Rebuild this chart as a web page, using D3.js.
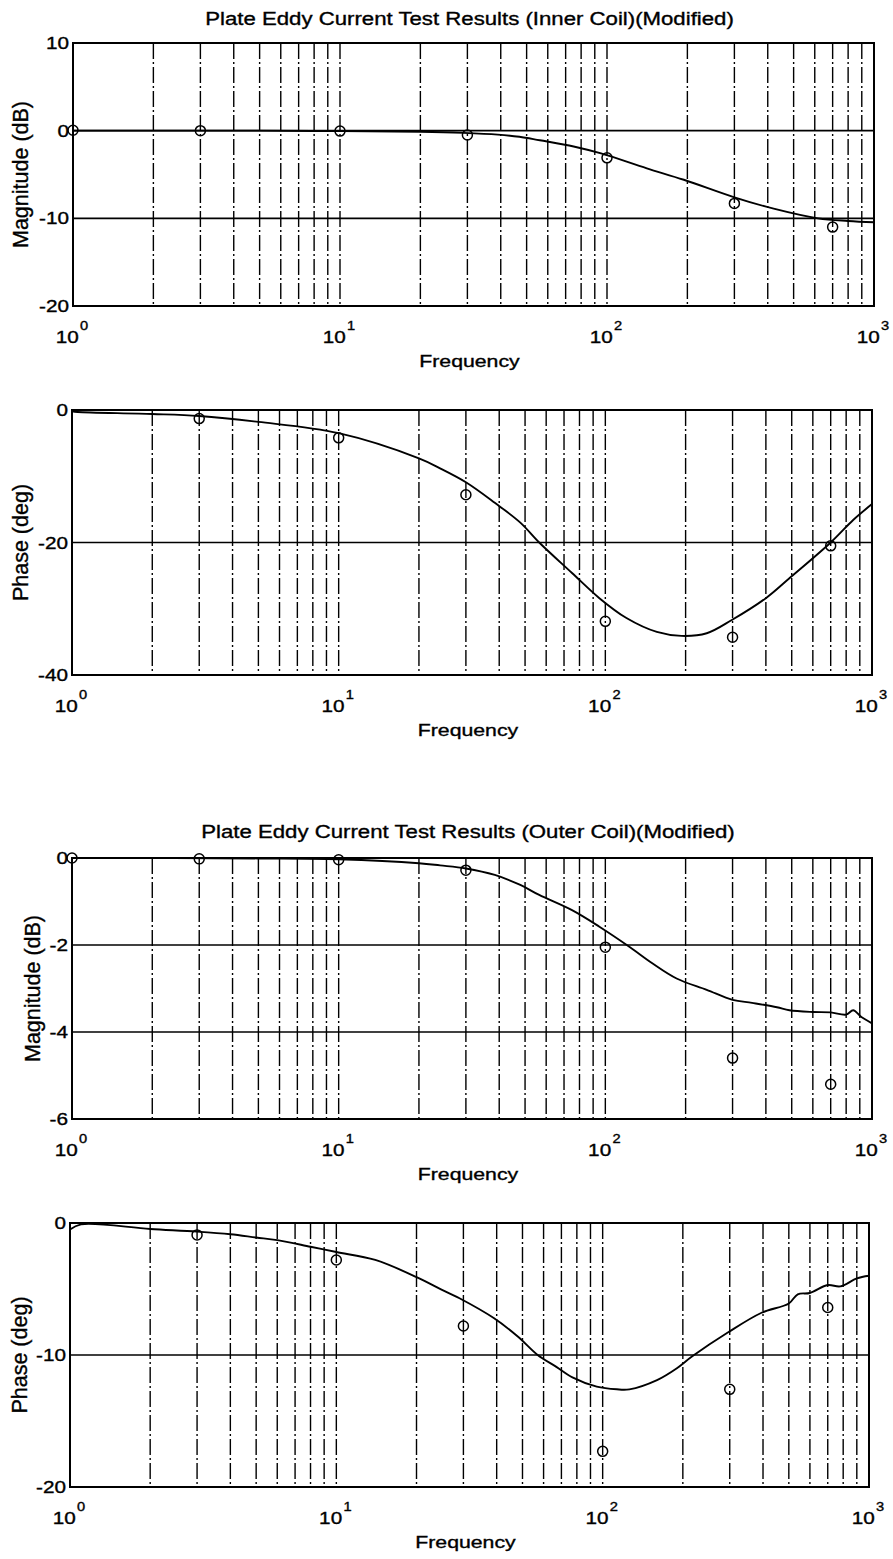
<!DOCTYPE html>
<html>
<head>
<meta charset="utf-8">
<script src="https://cdn.jsdelivr.net/npm/d3@7"></script>
<style>
  body { margin: 0; background: #fff; }
  svg text { font-family: "Liberation Sans", Arial, sans-serif; fill: #000; stroke: #000; stroke-width: 0.35px; }
</style>
</head>
<body>
<div id="chart"></div>
<script>
// values
const decades = [1, 10, 100, 1000];
const decadeExp = ["0", "1", "2", "3"];

// inner coil - magnitude (dB)
const innerMagFreq = [1, 2, 5, 10, 20, 29, 39, 47, 56, 75, 95, 141, 194, 300, 421, 617, 800, 1000];
const innerMagCurve = [0, 0, 0, -0.05, -0.12, -0.25, -0.45, -0.7, -1.1, -1.8, -2.6, -4.3, -5.6, -7.6, -8.9, -10.0, -10.3, -10.45];
const innerMagTestF = [1, 3, 10, 30, 100, 300, 700];
const innerMagTest = [0.05, 0, -0.05, -0.5, -3.1, -8.3, -11.0];
const innerMagTicks = [10, 0, -10, -20];

// inner coil - phase (deg)
const innerPhFreq = [1, 1.05, 2, 3, 5, 10, 20, 24, 30, 38.5, 48, 56.5, 75, 95, 120, 156, 193, 240, 298, 400, 490, 700, 850, 1000];
const innerPhCurve = [-0.2, -0.3, -0.6, -0.9, -1.8, -3.5, -7.3, -8.8, -10.9, -14, -17, -20, -24.6, -28.4, -31.4, -33.5, -34.1, -33.7, -31.7, -28.4, -25.4, -20, -16.6, -14.2];
const innerPhTestF = [3, 10, 30, 100, 300, 700];
const innerPhTest = [-1.3, -4.2, -12.8, -31.9, -34.3, -20.5];
const innerPhTicks = [0, -20, -40];

// outer coil - magnitude (dB)
const outerMagFreq = [1, 5, 10, 20, 24, 30, 38.5, 48, 56.5, 75, 95, 123, 150, 185, 240, 300, 355, 440, 490, 600, 700, 800, 850, 910, 1000];
const outerMagCurve = [0, -0.01, -0.03, -0.12, -0.17, -0.24, -0.39, -0.62, -0.85, -1.2, -1.58, -2.04, -2.42, -2.77, -3.03, -3.26, -3.33, -3.43, -3.5, -3.54, -3.55, -3.6, -3.5, -3.65, -3.8];
const outerMagTestF = [1, 3, 10, 30, 100, 300, 700];
const outerMagTest = [0, -0.02, -0.04, -0.28, -2.05, -4.6, -5.2];
const outerMagTicks = [0, -2, -4, -6];

// outer coil - phase (deg)
const outerPhFreq = [1, 1.1, 2, 3, 4, 5, 6, 8, 10, 14, 20, 24, 29, 39, 48, 57, 67, 77, 95, 113, 126, 160, 190, 217, 295, 395, 500, 540, 600, 700, 780, 900, 1000];
const outerPhCurve = [-0.5, -0.1, -0.45, -0.65, -0.85, -1.1, -1.3, -1.8, -2.2, -2.8, -4.1, -4.9, -5.7, -7.2, -8.6, -10, -10.9, -11.7, -12.4, -12.6, -12.6, -11.9, -11, -10.1, -8.3, -6.8, -6.1, -5.4, -5.3, -4.7, -4.8, -4.2, -4.0];
const outerPhTestF = [3, 10, 30, 100, 300, 700];
const outerPhTest = [-0.9, -2.8, -7.8, -17.3, -12.6, -6.4];
const outerPhTicks = [0, -10, -20];

const width = 893, height = 1559;
const sx = 1.22; // the scan is stretched sideways

const panels = [
  { title: "Plate Eddy Current Test Results (Inner Coil)(Modified)", titleY: 25,
    box: { left: 73, right: 874, top: 43, bottom: 306 }, yDomain: [-20, 10],
    yTicks: innerMagTicks, yLabel: "Magnitude (dB)", yLabelX: 28,
    cf: innerMagFreq, cv: innerMagCurve, tf: innerMagTestF, tv: innerMagTest },
  { box: { left: 72, right: 872, top: 410, bottom: 675 }, yDomain: [-40, 0],
    yTicks: innerPhTicks, yLabel: "Phase (deg)", yLabelX: 28,
    cf: innerPhFreq, cv: innerPhCurve, tf: innerPhTestF, tv: innerPhTest },
  { title: "Plate Eddy Current Test Results (Outer Coil)(Modified)", titleY: 838,
    box: { left: 72, right: 872, top: 858, bottom: 1119 }, yDomain: [-6, 0],
    yTicks: outerMagTicks, yLabel: "Magnitude (dB)", yLabelX: 40,
    cf: outerMagFreq, cv: outerMagCurve, tf: outerMagTestF, tv: outerMagTest },
  { box: { left: 70, right: 869, top: 1223, bottom: 1487 }, yDomain: [-20, 0],
    yTicks: outerPhTicks, yLabel: "Phase (deg)", yLabelX: 27,
    cf: outerPhFreq, cv: outerPhCurve, tf: outerPhTestF, tv: outerPhTest }
];

const svg = d3.select("#chart")
  .append("svg")
  .attr("width", width)
  .attr("height", height)
  .style("background", "#fff");

panels.forEach(p => {
  const b = p.box;
  const x = d3.scaleLog().domain([1, 1000]).range([b.left, b.right]);
  const y = d3.scaleLinear().domain(p.yDomain).range([b.bottom, b.top]);
  const g = svg.append("g");

  // title
  if (p.title) {
    g.append("text")
      .attr("transform", `translate(${(b.left + b.right) / 2 - 4},${p.titleY}) scale(1.2,1)`)
      .attr("text-anchor", "middle")
      .style("font-size", "18.5px")
      .text(p.title);
  }

  // vertical grid (log minor + decades)
  const gridX = x.ticks().filter(v => v > 1 && v < 1000);
  g.selectAll(".vgrid")
    .data(gridX)
    .enter()
    .append("line")
    .attr("x1", d => x(d)).attr("x2", d => x(d))
    .attr("y1", b.top).attr("y2", b.bottom)
    .attr("stroke", "#000")
    .attr("stroke-width", 1.4)
    .attr("stroke-dasharray", "16,3,2,3");

  // horizontal grid
  g.selectAll(".hgrid")
    .data(p.yTicks.filter(v => v > p.yDomain[0] && v < p.yDomain[1]))
    .enter()
    .append("line")
    .attr("x1", b.left).attr("x2", b.right)
    .attr("y1", d => y(d)).attr("y2", d => y(d))
    .attr("stroke", "#000")
    .attr("stroke-width", 1.7);

  // axes box
  g.append("rect")
    .attr("x", b.left).attr("y", b.top)
    .attr("width", b.right - b.left).attr("height", b.bottom - b.top)
    .attr("fill", "none")
    .attr("stroke", "#000")
    .attr("stroke-width", 2);

  // y tick labels
  g.selectAll(".ylab")
    .data(p.yTicks)
    .enter()
    .append("text")
    .attr("transform", d => `translate(${b.left - 4},${y(d)}) scale(${sx},1)`)
    .attr("text-anchor", "end")
    .attr("dy", "0.36em")
    .style("font-size", "17px")
    .text(d => d);

  // x tick labels 10^k
  const xl = g.selectAll(".xlab")
    .data(decades)
    .enter()
    .append("text")
    .attr("transform", d => `translate(${x(d) - 1},${b.bottom + 37}) scale(${sx},1)`)
    .attr("text-anchor", "middle")
    .style("font-size", "17px");
  xl.append("tspan").text("10");
  xl.append("tspan")
    .attr("dy", -13)
    .attr("dx", 1)
    .style("font-size", "12px")
    .text((d, i) => decadeExp[i]);

  // x axis title
  g.append("text")
    .attr("transform", `translate(${(b.left + b.right) / 2 - 4},${b.bottom + 61}) scale(1.25,1)`)
    .attr("text-anchor", "middle")
    .style("font-size", "17px")
    .text("Frequency");

  // y axis title
  g.append("text")
    .attr("transform", `translate(${p.yLabelX},${(b.top + b.bottom) / 2}) rotate(-90)`)
    .attr("text-anchor", "middle")
    .style("font-size", "21.5px")
    .text(p.yLabel);

  // model curve
  const line = d3.line()
    .x(d => x(d[0]))
    .y(d => y(d[1]))
    .curve(d3.curveCatmullRom.alpha(0.5));

  g.append("path")
    .datum(p.cf.map((f, i) => [f, p.cv[i]]))
    .attr("d", line)
    .attr("fill", "none")
    .attr("stroke", "#000")
    .attr("stroke-width", 1.9);

  // test points
  g.selectAll(".pt")
    .data(p.tf.map((f, i) => [f, p.tv[i]]))
    .enter()
    .append("circle")
    .attr("cx", d => x(d[0]))
    .attr("cy", d => y(d[1]))
    .attr("r", 5)
    .attr("fill", "none")
    .attr("stroke", "#000")
    .attr("stroke-width", 1.5);
});
</script>
</body>
</html>
